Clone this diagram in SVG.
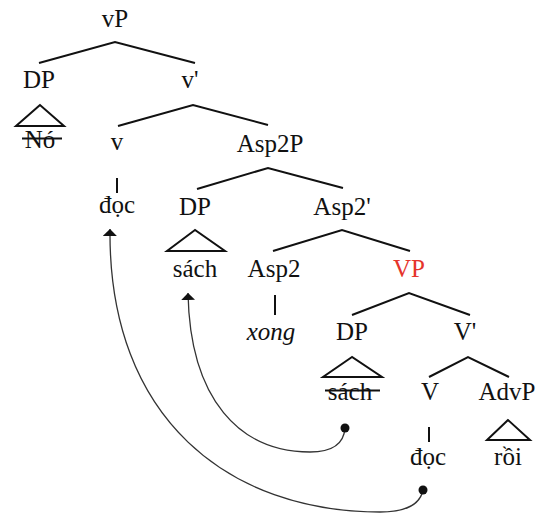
<svg xmlns="http://www.w3.org/2000/svg" width="537" height="514" viewBox="0 0 537 514">
<style>
.lbl{fill:#111;text-anchor:middle;font-family:"Liberation Serif","Times New Roman",serif;font-size:25px}
.red{fill:#e5342b}
.it{font-style:italic}
.br{stroke:#111;stroke-width:2;fill:none}
.tri{stroke:#111;stroke-width:2;fill:none;stroke-linejoin:miter}
.mv{stroke:#333;stroke-width:1.3;fill:none;marker-end:url(#ah)}
.dot{fill:#111}
</style>
<defs>
<marker id="ah" markerUnits="userSpaceOnUse" viewBox="0 0 7 14" markerWidth="7" markerHeight="14" refX="7" refY="7" orient="auto">
<path d="M0,0 L7,7 L0,14 z" fill="#111"/>
</marker>
</defs>
<g id="edges">
<path class="br" d="M39,63 L115,42 L195,63"/>
<path class="br" d="M118,126 L193,105 L268,125"/>
<path class="br" d="M197,189 L268,168 L343,188"/>
<path class="br" d="M273,251 L342,230 L410,251"/>
<path class="br" d="M352,315 L409,293 L470,315"/>
<path class="br" d="M429,377 L468,357 L509,377"/>
<path class="br" d="M117,178 L117,193"/>
<path class="br" d="M275,295 L275,315"/>
<path class="br" d="M429,427 L429,442"/>
</g>
<g id="movement">
<path class="mv" d="M423,490 C420,505 405,512 380,512 C230,512 108,420 110,229"/>
<circle class="dot" cx="423" cy="490" r="4.5"/>
<path class="mv" d="M345,428 C344,442 335,452 310,452 C240,452 190,400 188,293"/>
<circle class="dot" cx="345" cy="428" r="4.5"/>
</g>
<g id="nodes">
<g id="vP"><text class="lbl" x="115" y="27">vP</text></g>
<g id="DP1"><text class="lbl" x="39" y="88">DP</text></g>
<g id="No"><path class="tri" d="M40,105 L16,126 L64,126 Z"/><text class="lbl" x="40" y="148">Nó</text><path class="br" d="M22,138.5 L62,138.5" stroke-width="1.5"/></g>
<g id="vbar"><text class="lbl" x="190" y="88">v'</text></g>
<g id="v"><text class="lbl" x="117" y="150">v</text></g>
<g id="Asp2P"><text class="lbl" x="270" y="152">Asp2P</text></g>
<g id="doc1"><text class="lbl" x="117" y="213">đọc</text></g>
<g id="DP2"><text class="lbl" x="195" y="215">DP</text></g>
<g id="Asp2bar"><text class="lbl" x="342" y="215">Asp2'</text></g>
<g id="sach1"><path class="tri" d="M195,230 L167,251 L225,251 Z"/><text class="lbl" x="195" y="277">sách</text></g>
<g id="Asp2"><text class="lbl" x="274" y="277">Asp2</text></g>
<g id="VP"><text class="lbl red" x="409" y="277">VP</text></g>
<g id="xong"><text class="lbl it" x="271" y="340">xong</text></g>
<g id="DP3"><text class="lbl" x="352" y="340">DP</text></g>
<g id="Vbar"><text class="lbl" x="465" y="340">V'</text></g>
<g id="sach2"><path class="tri" d="M352,357 L323,377 L382,377 Z"/><text class="lbl" x="350" y="400">sách</text><path class="br" d="M325,390.5 L380,390.5" stroke-width="1.5"/></g>
<g id="V"><text class="lbl" x="430" y="400">V</text></g>
<g id="AdvP"><text class="lbl" x="507" y="400">AdvP</text></g>
<g id="doc2"><text class="lbl" x="428" y="465">đọc</text></g>
<g id="roi"><path class="tri" d="M508,420 L487,440 L530,440 Z"/><text class="lbl" x="508" y="465">rồi</text></g>
</g>
</svg>
